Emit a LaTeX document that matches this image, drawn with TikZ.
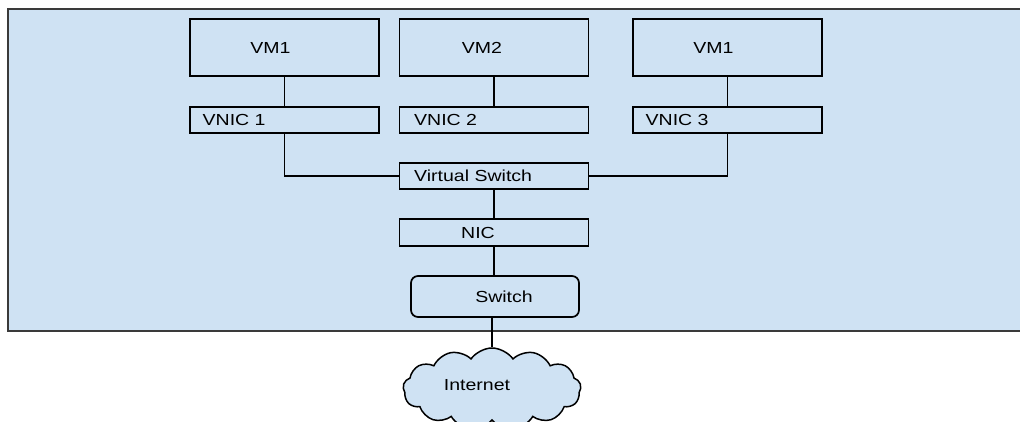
\documentclass[tikz,border=0pt]{standalone}
\usepackage{fontspec}
\setmainfont[FakeStretch=1.22]{Liberation Sans}
\usetikzlibrary{shapes.symbols}
\definecolor{bgblue}{HTML}{CFE2F3}
\definecolor{frame}{HTML}{3A3A3A}
\tikzset{
  box/.style={draw=black, line width=1.7pt, fill=bgblue, inner sep=0pt},
  bigbox/.style={box, minimum width=189pt, minimum height=57pt},
  thinbox/.style={box, minimum width=189pt, minimum height=26pt},
  txt/.style={font=\fontsize{16}{19}\selectfont},
  conn/.style={draw=black, line width=1.6pt},
}
\begin{document}
\begin{tikzpicture}[x=1pt,y=-1pt]
\useasboundingbox (0,0) rectangle (1020,421);
\begin{scope}
\clip (0,0) rectangle (1020,421);
\draw[draw=frame, line width=2.2pt, fill=bgblue] (8,9) rectangle (1040,331);
% VMs
\node[bigbox, label={[txt,xshift=-14pt]center:VM1}] (vm1) at (284.5,47.5) {};
\node[bigbox, label={[txt,xshift=-12pt]center:VM2}] (vm2) at (494,47.5) {};
\node[bigbox, label={[txt,xshift=-14pt]center:VM1}] (vm3) at (727.5,47.5) {};
% VNICs
\node[thinbox, label={[txt,anchor=west,xshift=10pt]west:VNIC 1}] (vnic1) at (284.5,120) {};
\node[thinbox, label={[txt,anchor=west,xshift=12pt]west:VNIC 2}] (vnic2) at (494,120) {};
\node[thinbox, label={[txt,anchor=west,xshift=10pt]west:VNIC 3}] (vnic3) at (727.5,120) {};
% Virtual switch, NIC, Switch
\node[thinbox, label={[txt,anchor=west,xshift=12pt]west:Virtual Switch}] (vs) at (494,176) {};
\node[thinbox, minimum height=27pt, label={[txt,xshift=-16pt]center:NIC}] (nic) at (494,232.5) {};
\node[box, rounded corners=7pt, minimum width=168pt, minimum height=41pt,
      label={[txt,xshift=9pt]center:Switch}] (sw) at (495,296.5) {};
% Cloud
\node[cloud, cloud puffs=13, cloud puff arc=110, aspect=2.3, draw=black, line width=1.5pt,
      fill=bgblue, minimum width=178pt, minimum height=82pt, inner sep=0pt,
      label={[txt,xshift=-15pt,yshift=4pt]center:Internet}] (net) at (492,389) {};
% connectors
\draw[conn] (vm1.south) -- (vnic1.north);
\draw[conn] (vm2.south) -- (vnic2.north);
\draw[conn] (vm3.south) -- (vnic3.north);
\draw[conn] (vnic1.south) |- (vs.west);
\draw[conn] (vnic3.south) |- (vs.east);
\draw[conn] (vs.south) -- (nic.north);
\draw[conn] (nic.south) -- (nic.south |- sw.north);
\draw[conn] (sw.south -| net.north) -- (net.north);
\end{scope}
\end{tikzpicture}
\end{document}
